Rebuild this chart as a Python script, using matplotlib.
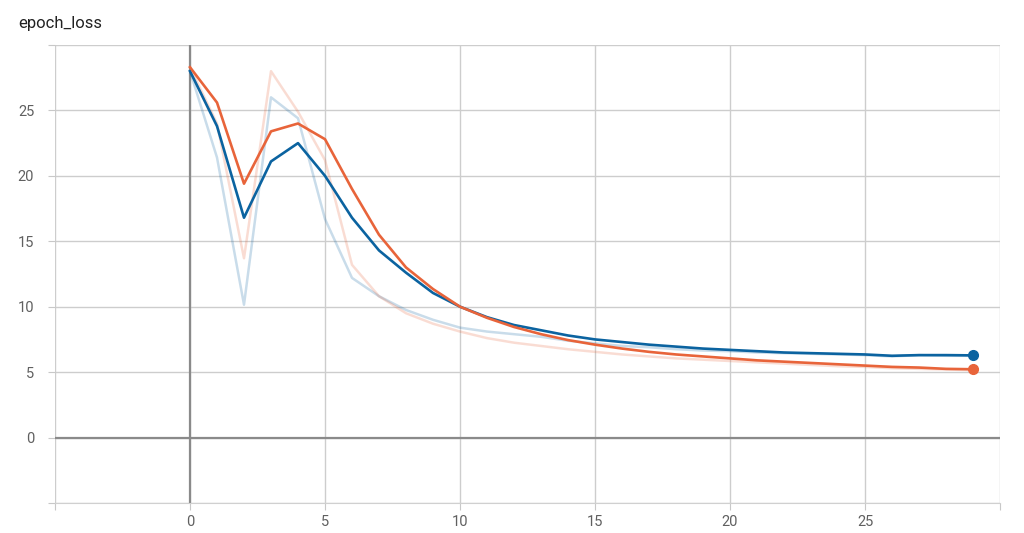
import matplotlib.pyplot as plt
import numpy as np

steps = list(range(30))

# smoothed curves (as drawn by TensorBoard)
blue_smooth = [28.0, 23.8, 16.8, 21.1, 22.5, 20.0, 16.8, 14.3, 12.6, 11.05,
               10.0, 9.2, 8.6, 8.2, 7.8, 7.5, 7.3, 7.1, 6.95, 6.8,
               6.7, 6.6, 6.5, 6.45, 6.4, 6.35, 6.25, 6.3, 6.3, 6.28]
orange_smooth = [28.3, 25.6, 19.4, 23.4, 24.0, 22.8, 19.0, 15.5, 13.0, 11.35,
                 10.0, 9.15, 8.45, 7.9, 7.45, 7.1, 6.8, 6.55, 6.35, 6.2,
                 6.05, 5.9, 5.8, 5.7, 5.6, 5.5, 5.4, 5.35, 5.25, 5.22]

# raw curves (faint)
blue_raw = [28.0, 21.4, 10.15, 26.0, 24.4, 16.7, 12.2, 10.8, 9.75, 9.0,
            8.4, 8.1, 7.9, 7.7, 7.4, 7.2, 7.0, 6.9, 6.75, 6.65,
            6.6, 6.5, 6.45, 6.4, 6.35, 6.3, 6.2, 6.3, 6.25, 6.25]
orange_raw = [28.3, 24.0, 13.7, 28.0, 24.9, 21.2, 13.2, 10.8, 9.5, 8.7,
              8.1, 7.6, 7.25, 7.0, 6.75, 6.55, 6.35, 6.2, 6.05, 5.95,
              5.85, 5.75, 5.65, 5.55, 5.45, 5.4, 5.3, 5.25, 5.2, 5.15]

x_ticks = [-5, 0, 5, 10, 15, 20, 25, 30]
y_ticks = [-5, 0, 5, 10, 15, 20, 25, 30]

blue = "#0b63a0"
orange = "#e8643a"

plt.rcParams["font.family"] = ["Roboto", "DejaVu Sans"]

fig = plt.figure(figsize=(10.24, 5.33), dpi=100)
ax = fig.add_axes([0.0537, 0.0563, 0.9229, 0.8593])

ax.plot(steps, blue_raw, color=blue, alpha=0.22, lw=1.8, zorder=2)
ax.plot(steps, orange_raw, color=orange, alpha=0.22, lw=1.8, zorder=2)
ax.plot(steps, blue_smooth, color=blue, lw=1.9, zorder=3)
ax.plot(steps, orange_smooth, color=orange, lw=1.9, zorder=4)
ax.plot(steps[-1], blue_smooth[-1], "o", color=blue, ms=7, zorder=5)
ax.plot(steps[-1], orange_smooth[-1], "o", color=orange, ms=7, zorder=5)

ax.axvline(0, color="#8a8a8a", lw=1.6, zorder=1)
ax.axhline(0, color="#8a8a8a", lw=1.6, zorder=1)

ax.set_xlim(-5, 30)
ax.set_ylim(-5, 30)
ax.set_xticks(x_ticks)
ax.set_yticks(y_ticks)
ax.set_xticklabels(["" if t in (-5, 30) else str(t) for t in x_ticks])
ax.set_yticklabels(["" if t in (-5, 30) else str(t) for t in y_ticks])
ax.grid(True, color="#cdcdcd", lw=1.0, zorder=0)
ax.set_axisbelow(True)

for side in ("top", "right", "left"):
    ax.spines[side].set_visible(False)
ax.spines["bottom"].set_color("#d0d0d0")
ax.tick_params(axis="both", colors="#c8c8c8", labelcolor="#606060",
               labelsize=10.5, length=5)
ax.tick_params(axis="y", pad=10)

fig.text(0.0176, 0.955, "epoch_loss", fontsize=12, color="#222222",
         va="center", ha="left")

fig.savefig("out.png", dpi=100)
